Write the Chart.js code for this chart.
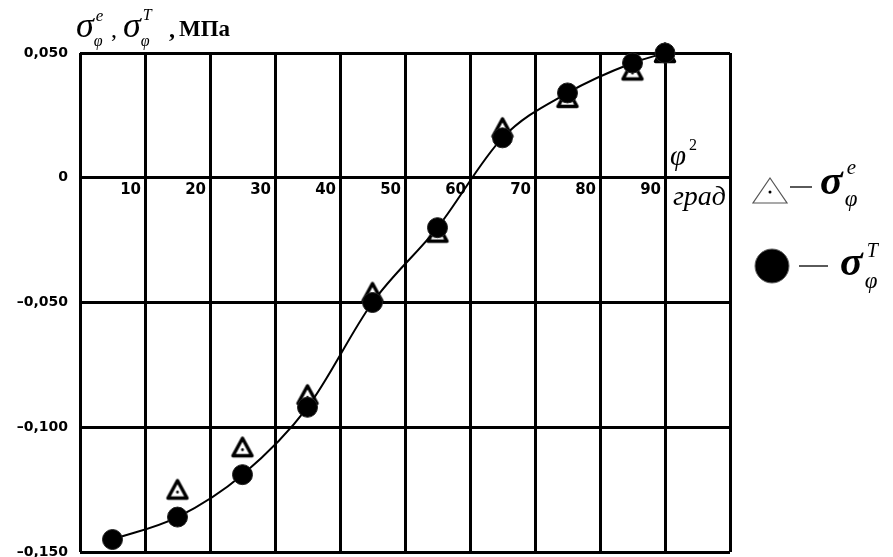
<!DOCTYPE html>
<html>
<head>
<meta charset="utf-8">
<script src="https://cdn.jsdelivr.net/npm/chart.js@4.4.1/dist/chart.umd.min.js"></script>
<style>
  html, body { margin: 0; padding: 0; background: #fff; overflow: hidden; }
  #wrap { width: 893px; height: 557px; position: relative; overflow: hidden; }
</style>
</head>
<body>
<div id="wrap"><canvas id="c" width="893" height="563"></canvas></div>
<script>
// Angle φ, degrees
const phiDeg = [5, 15, 25, 35, 45, 55, 65, 75, 85, 90];
// Theoretical stress σφ^T, MPa
const sigmaTheory = [-0.145, -0.136, -0.119, -0.092, -0.050, -0.020, 0.016, 0.034, 0.046, 0.050];
// Experimental stress σφ^e, MPa (no reading at 5°)
const sigmaExp = [null, -0.125, -0.108, -0.087, -0.046, -0.022, 0.020, 0.032, 0.043, 0.050];

// Axis ticks and their labels
const xTickValues = [0, 10, 20, 30, 40, 50, 60, 70, 80, 90, 100];
const xTickLabels = ['', '10', '20', '30', '40', '50', '60', '70', '80', '90', 'град'];
const yTickValues = [0.05, 0, -0.05, -0.10, -0.15];
const yTickLabels = ['0,050', '0', '–0,050', '–0,100', '–0,150'];

const toPoints = (xs, ys) => xs.map((x, i) => ({ x: x, y: ys[i] }));

// open triangle marker with a dot in the middle
function makeTriangle() {
  const c = document.createElement('canvas');
  c.width = 28; c.height = 28;
  const g = c.getContext('2d');
  g.fillStyle = '#fff';
  g.strokeStyle = '#000';
  g.lineWidth = 3.5;
  g.lineJoin = 'round';
  g.beginPath();
  g.moveTo(14, 5);
  g.lineTo(23.5, 22.5);
  g.lineTo(4.5, 22.5);
  g.closePath();
  g.fill();
  g.stroke();
  g.fillStyle = '#000';
  g.beginPath();
  g.arc(14, 16.5, 1.4, 0, Math.PI * 2);
  g.fill();
  return c;
}
const triangleMarker = makeTriangle();

const SERIF = '"Liberation Serif", "DejaVu Serif", serif';

// σ with a superscript and a φ subscript
function sigmaSymbol(ctx, x, base, size, sup, opts) {
  const o = opts || {};
  ctx.font = (o.bold ? 'bold ' : '') + 'italic ' + size + 'px ' + SERIF;
  ctx.fillText('σ', x, base);
  const w = ctx.measureText('σ').width;
  ctx.font = 'italic ' + o.supSize + 'px ' + SERIF;
  ctx.fillText(sup, x + w + o.supDx, base + o.supDy);
  ctx.font = 'italic ' + o.subSize + 'px ' + SERIF;
  ctx.fillText('φ', x + w + o.subDx, base + o.subDy);
}

const annotations = {
  id: 'annotations',
  afterDraw(chart) {
    const ctx = chart.ctx;
    ctx.save();
    ctx.fillStyle = '#000';
    ctx.strokeStyle = '#000';
    ctx.textAlign = 'left';
    ctx.textBaseline = 'alphabetic';

    // value axis caption
    sigmaSymbol(ctx, 76, 37, 36, 'e', { supSize: 17, supDx: 2, supDy: -16, subSize: 16, subDx: 0, subDy: 9 });
    ctx.font = '24px ' + SERIF;
    ctx.fillText(',', 111, 37);
    sigmaSymbol(ctx, 123, 37, 36, 'T', { supSize: 16, supDx: 2, supDy: -17, subSize: 16, subDx: 0, subDy: 9 });
    ctx.font = 'bold 24px ' + SERIF;
    ctx.fillText(',', 169, 37);
    ctx.font = 'bold 23px ' + SERIF;
    ctx.fillText('МПа', 179, 36);

    // angle axis caption
    ctx.font = 'italic 29px ' + SERIF;
    ctx.fillText('φ', 670, 165);
    ctx.font = '16px ' + SERIF;
    ctx.fillText('2', 689, 150);

    // legend: experimental
    ctx.fillStyle = '#fff';
    ctx.strokeStyle = '#555';
    ctx.lineWidth = 1.2;
    ctx.beginPath();
    ctx.moveTo(770, 178);
    ctx.lineTo(787, 203);
    ctx.lineTo(753, 203);
    ctx.closePath();
    ctx.fill();
    ctx.stroke();
    ctx.fillStyle = '#000';
    ctx.beginPath();
    ctx.arc(770, 192, 1.5, 0, Math.PI * 2);
    ctx.fill();
    ctx.strokeStyle = '#000';
    ctx.lineWidth = 1.3;
    ctx.beginPath();
    ctx.moveTo(790, 187);
    ctx.lineTo(812, 187);
    ctx.stroke();
    sigmaSymbol(ctx, 820, 194, 42, 'e', { bold: true, supSize: 21, supDx: 4, supDy: -20, subSize: 23, subDx: 2, subDy: 12 });

    // legend: theoretical
    ctx.fillStyle = '#000';
    ctx.strokeStyle = '#666';
    ctx.lineWidth = 1;
    ctx.beginPath();
    ctx.arc(772, 266, 17, 0, Math.PI * 2);
    ctx.fill();
    ctx.stroke();
    ctx.strokeStyle = '#000';
    ctx.lineWidth = 1.3;
    ctx.beginPath();
    ctx.moveTo(799, 266);
    ctx.lineTo(828, 266);
    ctx.stroke();
    sigmaSymbol(ctx, 840, 275, 42, 'T', { bold: true, supSize: 20, supDx: 4, supDy: -18, subSize: 23, subDx: 2, subDy: 13 });

    ctx.restore();
  }
};

new Chart(document.getElementById('c'), {
  type: 'line',
  data: {
    datasets: [
      {
        label: 'σφT',
        data: toPoints(phiDeg, sigmaTheory),
        borderColor: '#000',
        borderWidth: 2,
        backgroundColor: '#000',
        pointRadius: 10,
        pointBackgroundColor: '#000',
        pointBorderColor: '#222',
        pointBorderWidth: 1,
        cubicInterpolationMode: 'monotone',
        clip: false,
        order: 0
      },
      {
        label: 'σφe',
        data: toPoints(phiDeg, sigmaExp),
        showLine: false,
        pointStyle: triangleMarker,
        pointRadius: 10,
        clip: false,
        order: 1
      }
    ]
  },
  options: {
    responsive: false,
    devicePixelRatio: 1,
    animation: false,
    layout: { padding: { top: 53, right: 163, bottom: 0, left: 0 } },
    plugins: { legend: { display: false }, tooltip: { enabled: false } },
    scales: {
      x: {
        type: 'linear',
        min: 0,
        max: 100,
        position: { y: 0 },
        afterBuildTicks: s => { s.ticks = xTickValues.map(v => ({ value: v })); },
        afterFit: s => { s.paddingLeft = 0; s.paddingRight = 0; s.paddingTop = 0; s.paddingBottom = 0; },
        grid: { color: '#000', lineWidth: 3, drawTicks: false },
        border: { display: false },
        ticks: {
          autoSkip: false,
          maxRotation: 0,
          align: 'end',
          labelOffset: -4,
          padding: 3,
          color: '#000',
          font: c => (c.tick && c.tick.value === 100)
            ? { family: SERIF, style: 'italic', size: 28, weight: 'normal' }
            : { family: '"DejaVu Sans", sans-serif', size: 15, weight: 'bold' },
          callback: v => xTickLabels[xTickValues.indexOf(v)]
        }
      },
      y: {
        type: 'linear',
        min: -0.15,
        max: 0.05,
        afterBuildTicks: s => { s.ticks = yTickValues.map(v => ({ value: v })); },
        afterFit: s => { s.width = 80; s.paddingTop = 0; s.paddingBottom = 0; },
        grid: { color: '#000', lineWidth: 3, drawTicks: false },
        border: { display: false },
        ticks: {
          padding: 12,
          color: '#000',
          font: { family: '"DejaVu Sans", sans-serif', size: 14, weight: 'bold' },
          callback: v => {
            const i = yTickValues.findIndex(t => Math.abs(t - v) < 1e-9);
            return i >= 0 ? yTickLabels[i] : '';
          }
        }
      }
    }
  },
  plugins: [annotations]
});
</script>
</body>
</html>
